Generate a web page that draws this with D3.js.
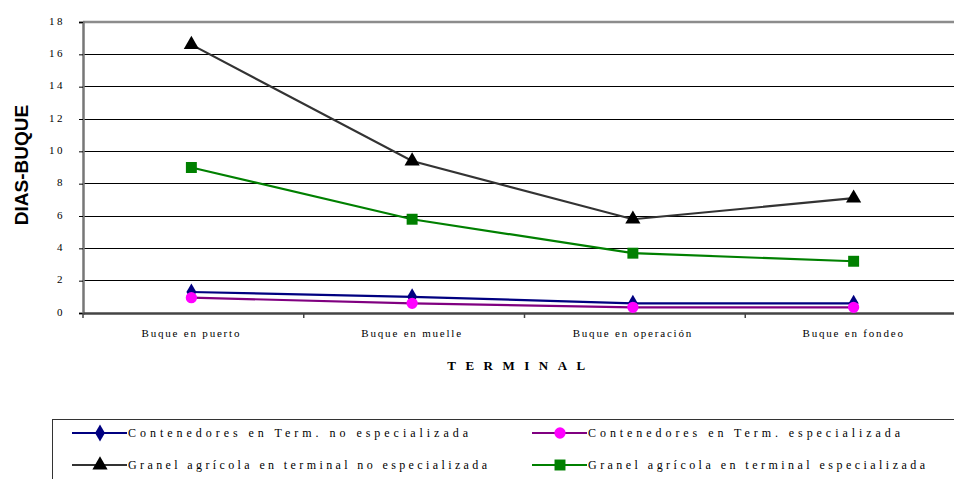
<!DOCTYPE html>
<html>
<head>
<meta charset="utf-8">
<script src="https://cdn.jsdelivr.net/npm/d3@7"></script>
<style>
  html, body { margin: 0; padding: 0; background: #fff; }
  svg { display: block; }
</style>
</head>
<body>
<svg id="chart" width="954" height="479"></svg>
<script>
// Terminal stages on the category axis
const categories = ["Buque en puerto", "Buque en muelle", "Buque en operación", "Buque en fondeo"];

// Ship-days per stage, one array per cargo/terminal type
const contNoEsp   = [1.3, 1.0, 0.6, 0.6];
const contEsp     = [0.95, 0.6, 0.35, 0.35];
const granelNoEsp = [16.6, 9.4, 5.8, 7.1];
const granelEsp   = [9.0, 5.8, 3.7, 3.2];

const seriesNames = [
  "Contenedores en Term. no especializada",
  "Contenedores en Term. especializada",
  "Granel agrícola en terminal no especializada",
  "Granel agrícola en terminal especializada"
];

const yTicks = [0, 2, 4, 6, 8, 10, 12, 14, 16, 18];
const yTitle = "DIAS-BUQUE";
const xTitle = "TERMINAL";

const series = [
  { name: seriesNames[0], values: contNoEsp,   line: "#000080", fill: "#000080", symbol: d3.symbolDiamond,  size: 85 },
  { name: seriesNames[1], values: contEsp,     line: "#800080", fill: "#ff00ff", symbol: d3.symbolCircle,   size: 100 },
  { name: seriesNames[2], values: granelNoEsp, line: "#333333", fill: "#000000", symbol: d3.symbolTriangle, size: 100 },
  { name: seriesNames[3], values: granelEsp,   line: "#008000", fill: "#008000", symbol: d3.symbolSquare,   size: 120 }
];

const svg = d3.select("#chart");
const plot = { left: 83, right: 966, top: 22, bottom: 313 };

const x = d3.scaleBand().domain(categories).range([plot.left, plot.right]);
const y = d3.scaleLinear().domain([0, 18]).range([plot.bottom, plot.top]);
const cx = c => x(c) + x.bandwidth() / 2 - 2;

const serif = "'Liberation Serif', 'DejaVu Serif', serif";

// Horizontal gridlines
svg.append("g")
  .selectAll("line")
  .data(yTicks.filter(t => t > 0 && t < 18))
  .join("line")
  .attr("x1", plot.left).attr("x2", 954)
  .attr("y1", d => y(d)).attr("y2", d => y(d))
  .attr("stroke", "#000").attr("stroke-width", 1)
  .attr("shape-rendering", "crispEdges");

// Top frame line
svg.append("line")
  .attr("x1", plot.left).attr("x2", 954)
  .attr("y1", y(18)).attr("y2", y(18))
  .attr("stroke", "#8c8c8c").attr("stroke-width", 2.5);

// Y axis
const yAxis = d3.axisLeft(y).tickValues(yTicks).tickSize(4).tickPadding(14).tickFormat(d3.format("d"));
const gy = svg.append("g").attr("transform", `translate(${plot.left},0)`).call(yAxis);
gy.select(".domain").attr("stroke", "#777").attr("stroke-width", 2.5);
gy.selectAll(".tick line").attr("stroke", "#000").attr("stroke-width", 1);
gy.selectAll(".tick text")
  .attr("font-family", serif).attr("font-size", 11).attr("fill", "#000")
  .attr("letter-spacing", 2.5).attr("dy", "0.2em");

// X axis
const xAxis = d3.axisBottom(x).tickSize(0).tickPadding(16);
const gx = svg.append("g").attr("transform", `translate(0,${plot.bottom})`).call(xAxis);
gx.select(".domain").attr("stroke", "#444").attr("stroke-width", 2.5);
gx.selectAll(".tick text")
  .attr("font-family", serif).attr("font-size", 11).attr("fill", "#000")
  .attr("letter-spacing", 1.8)
  .attr("transform", "translate(-2,0)");

// Category separator ticks
svg.append("g")
  .selectAll("line")
  .data(categories)
  .join("line")
  .attr("x1", d => x(d)).attr("x2", d => x(d))
  .attr("y1", plot.bottom).attr("y2", plot.bottom + 5)
  .attr("stroke", "#444").attr("stroke-width", 1.5);

// Axis titles
svg.append("text")
  .attr("transform", `translate(28,165) rotate(-90)`)
  .attr("text-anchor", "middle")
  .attr("font-family", "'Liberation Sans', Arial, sans-serif")
  .attr("font-size", 19).attr("font-weight", "bold")
  .text(yTitle);

svg.append("text")
  .attr("x", 521).attr("y", 370)
  .attr("text-anchor", "middle")
  .attr("font-family", serif)
  .attr("font-size", 13).attr("font-weight", "bold")
  .attr("letter-spacing", 9.5)
  .text(xTitle);

// Series lines and markers
const line = d3.line().x((d, i) => cx(categories[i])).y(d => y(d));

series.forEach(s => {
  svg.append("path")
    .datum(s.values)
    .attr("d", line)
    .attr("fill", "none")
    .attr("stroke", s.line)
    .attr("stroke-width", 2.2);
});

series.forEach(s => {
  svg.append("g")
    .selectAll("path")
    .data(s.values)
    .join("path")
    .attr("transform", (d, i) => `translate(${cx(categories[i])},${y(d)})`)
    .attr("d", d3.symbol().type(s.symbol).size(s.size))
    .attr("fill", s.fill);
});

// Legend
const legend = svg.append("g");
legend.append("rect")
  .attr("x", 52.5).attr("y", 419.5)
  .attr("width", 920).attr("height", 80)
  .attr("fill", "none").attr("stroke", "#333").attr("stroke-width", 1);

const legendPos = [
  { x: 72, y: 433 },
  { x: 532, y: 433 },
  { x: 72, y: 465 },
  { x: 532, y: 465 }
];
const legendTextLen = [340, 312, 359, 337];

series.forEach((s, i) => {
  const p = legendPos[i];
  const g = legend.append("g").attr("transform", `translate(${p.x},${p.y})`);
  g.append("line").attr("x1", 0).attr("x2", 55).attr("y1", 0).attr("y2", 0)
    .attr("stroke", s.line).attr("stroke-width", 2);
  g.append("path").attr("transform", "translate(28,0)")
    .attr("d", d3.symbol().type(s.symbol).size(s.size)).attr("fill", s.fill);
  g.append("text")
    .attr("x", 56).attr("y", 4)
    .attr("font-family", serif).attr("font-size", 12)
    .attr("textLength", legendTextLen[i]).attr("lengthAdjust", "spacing")
    .text(s.name);
});
</script>
</body>
</html>
